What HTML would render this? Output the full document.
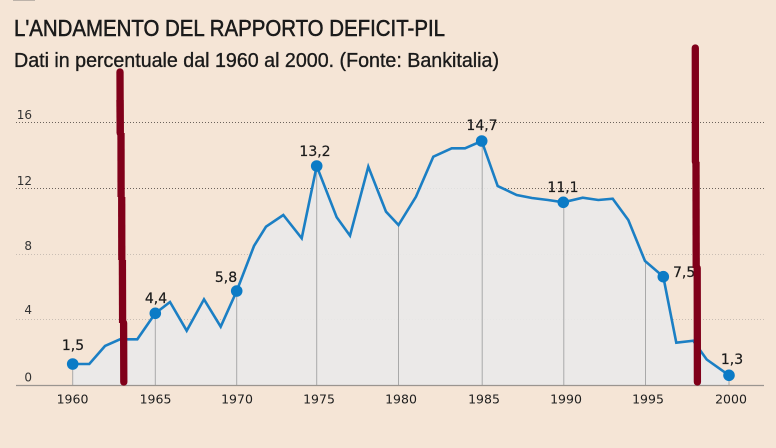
<!DOCTYPE html>
<html>
<head>
<meta charset="utf-8">
<style>
  html, body { margin:0; padding:0; background:#f5e5d6; }
  body { width:776px; height:448px; overflow:hidden; }
  svg { display:block; }
</style>
</head>
<body>
<svg width="776" height="448" viewBox="0 0 776 448" xmlns="http://www.w3.org/2000/svg">
  <rect x="0" y="0" width="776" height="448" fill="#f5e5d6"/>
  <rect x="13" y="0" width="22" height="1" fill="#bdb3aa"/>

  <!-- Title -->
  <text x="14" y="36" font-family="Liberation Sans, sans-serif" font-size="23" fill="#1a1a1a" stroke="#1a1a1a" stroke-width="0.55" textLength="431" lengthAdjust="spacingAndGlyphs">L'ANDAMENTO DEL RAPPORTO DEFICIT-PIL</text>
  <text x="14" y="67" font-family="Liberation Sans, sans-serif" font-size="20" fill="#1a1a1a" stroke="#1a1a1a" stroke-width="0.35" textLength="485" lengthAdjust="spacingAndGlyphs">Dati in percentuale dal 1960 al 2000. (Fonte: Bankitalia)</text>

  <!-- Gridlines -->
  <g stroke-width="1" stroke-dasharray="1,2">
    <line x1="16" y1="122.5" x2="764" y2="122.5" stroke="#6b625b"/>
    <line x1="16" y1="188.5" x2="764" y2="188.5" stroke="#6b625b"/>
    <line x1="16" y1="254.5" x2="764" y2="254.5" stroke="#c9beb4"/>
    <line x1="16" y1="319.5" x2="764" y2="319.5" stroke="#c9beb4"/>
  </g>

  <!-- Y labels -->
  <g font-family="DejaVu Sans, sans-serif" font-size="12" fill="#333" text-anchor="end">
    <text x="32" y="119">16</text>
    <text x="32" y="185">12</text>
    <text x="32" y="250">8</text>
    <text x="32" y="314">4</text>
    <text x="32" y="381.5">0</text>
  </g>

  <!-- Area fill -->
  <polygon fill="#e9e9e9" fill-opacity="0.92" points="72.7,385.5 72.7,364 89.3,364 105,346 120,339.3 137.3,339.3 155.3,313.3 170,302 186.7,330.7 204,299.3 220.7,326.7 236.7,291 254,246 266,226.7 283.3,215 301.7,238.3 316.7,166 336.7,217.3 350,235.7 368.3,166.7 386,211.7 398.5,225 416,196.7 433.3,156.7 451.7,148.3 465,148.3 481.7,141 497.7,186 516.7,195 531.9,198 548,200 563.3,202.3 582.7,197.7 598.3,200 612.7,198.7 628.3,220 645,261 663.3,276.7 676.3,342.7 693.3,340.7 706.7,359.5 729,375.3 729,385.5"/>

  <!-- vertical drop lines -->
  <g stroke="#a9a9a9" stroke-width="1">
    <line x1="72.7" y1="364" x2="72.7" y2="385"/>
    <line x1="155.3" y1="313" x2="155.3" y2="385"/>
    <line x1="236.7" y1="291" x2="236.7" y2="385"/>
    <line x1="316.7" y1="166" x2="316.7" y2="385"/>
    <line x1="398.5" y1="225" x2="398.5" y2="385"/>
    <line x1="482.2" y1="141" x2="482.2" y2="385"/>
    <line x1="563.8" y1="202" x2="563.8" y2="385"/>
    <line x1="645.5" y1="261" x2="645.5" y2="385"/>
    <line x1="729" y1="375" x2="729" y2="385"/>
  </g>

  <!-- Axis line -->
  <line x1="16" y1="385.5" x2="764" y2="385.5" stroke="#9a9590" stroke-width="1.2"/>

  <!-- X labels -->
  <g font-family="DejaVu Sans, sans-serif" font-size="12.5" fill="#1e1e1e" text-anchor="middle">
    <text x="72.5" y="403.5">1960</text>
    <text x="155.5" y="403.5">1965</text>
    <text x="237" y="403.5">1970</text>
    <text x="319" y="403.5">1975</text>
    <text x="401" y="403.5">1980</text>
    <text x="484" y="403.5">1985</text>
    <text x="566" y="403.5">1990</text>
    <text x="648" y="403.5">1995</text>
    <text x="731" y="403.5">2000</text>
  </g>

  <!-- Data line -->
  <polyline fill="none" stroke="#1b7fc4" stroke-width="2.6" stroke-linejoin="miter" points="72.7,364 89.3,364 105,346 120,339.3 137.3,339.3 155.3,313.3 170,302 186.7,330.7 204,299.3 220.7,326.7 236.7,291 254,246 266,226.7 283.3,215 301.7,238.3 316.7,166 336.7,217.3 350,235.7 368.3,166.7 386,211.7 398.5,225 416,196.7 433.3,156.7 451.7,148.3 465,148.3 481.7,141 497.7,186 516.7,195 531.9,198 548,200 563.3,202.3 582.7,197.7 598.3,200 612.7,198.7 628.3,220 645,261 663.3,276.7 676.3,342.7 693.3,340.7 706.7,359.5 729,375.3"/>

  <!-- Dots -->
  <g fill="#0b7bc6">
    <circle cx="72.7" cy="364" r="5.8"/>
    <circle cx="155.3" cy="313.3" r="5.8"/>
    <circle cx="236.7" cy="291" r="5.8"/>
    <circle cx="316.7" cy="166" r="5.8"/>
    <circle cx="481.7" cy="141" r="5.8"/>
    <circle cx="563.3" cy="202.3" r="5.8"/>
    <circle cx="663.3" cy="276.7" r="5.8"/>
    <circle cx="729" cy="375.3" r="5.8"/>
  </g>

  <!-- Data labels -->
  <g font-family="DejaVu Sans, sans-serif" font-size="14" fill="#1a1a1a" stroke="#1a1a1a" stroke-width="0.2" text-anchor="middle">
    <text x="73" y="350">1,5</text>
    <text x="156" y="303">4,4</text>
    <text x="226" y="282">5,8</text>
    <text x="315" y="156">13,2</text>
    <text x="482" y="130">14,7</text>
    <text x="563" y="192">11,1</text>
    <text x="673" y="277" text-anchor="start">7,5</text>
    <text x="732" y="364">1,3</text>
  </g>

  <!-- Hand-drawn red markers -->
  <g stroke="#80001a" stroke-width="7.3" fill="none">
    <line x1="120" y1="72" x2="120.2" y2="133" stroke-linecap="round"/>
    <line x1="120" y1="100" x2="120.2" y2="133" stroke-linecap="butt"/>
    <line x1="121" y1="133" x2="121.1" y2="197" stroke-linecap="butt"/>
    <line x1="121.7" y1="197" x2="121.8" y2="260" stroke-linecap="butt"/>
    <line x1="122.4" y1="260" x2="122.6" y2="323" stroke-linecap="butt"/>
    <line x1="123.6" y1="323" x2="123.8" y2="382" stroke-linecap="round"/>

    <line x1="695.3" y1="48" x2="695.4" y2="161.7" stroke-linecap="round"/>
    <line x1="696" y1="161.7" x2="696.2" y2="268" stroke-linecap="butt"/>
    <line x1="697.2" y1="268" x2="697.4" y2="382" stroke-linecap="round"/>
  </g>
</svg>
</body>
</html>
